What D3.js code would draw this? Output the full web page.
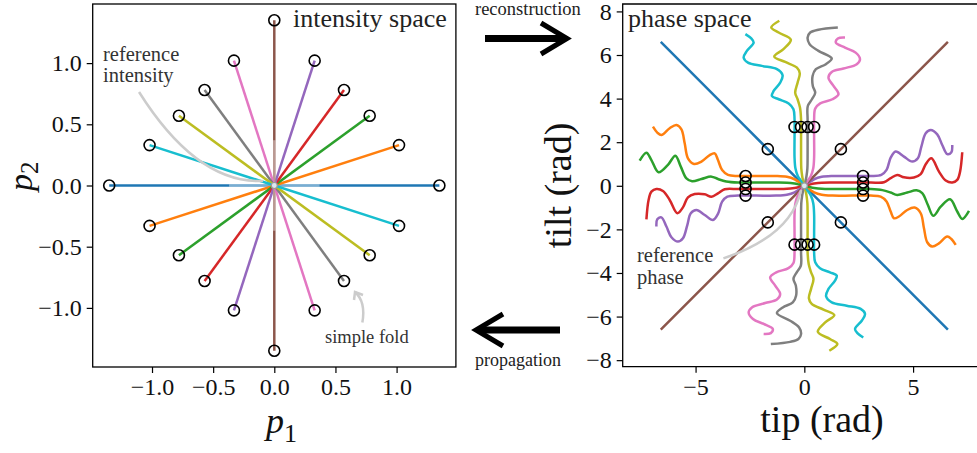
<!DOCTYPE html>
<html>
<head>
<meta charset="utf-8">
<script src="https://cdn.jsdelivr.net/npm/d3@7"></script>
<style>
  body { margin: 0; background: #fff; }
  svg { display: block; font-family: "Liberation Serif", "DejaVu Serif", serif; }
</style>
</head>
<body>
<svg width="977" height="453"></svg>
<script>
// tab10 colours, one per fold direction
var colours = ["#1f77b4", "#ff7f0e", "#2ca02c", "#d62728", "#9467bd",
               "#8c564b", "#e377c2", "#7f7f7f", "#bcbd22", "#17becf"];

// intensity space: positive end of each fold line (the other end is opposite)
var intensityP1 = [1.35, 1.02, 0.78, 0.57, 0.33, 0.00, -0.33, -0.57, -0.78, -1.02];
var intensityP2 = [0.00, 0.33, 0.57, 0.78, 1.02, 1.35, 1.02, 0.78, 0.57, 0.33];

var intensityTicks = [-1.0, -0.5, 0.0, 0.5, 1.0];
var tipTicks = [-5, 0, 5];
var tiltTicks = [-8, -6, -4, -2, 0, 2, 4, 6, 8];

// phase space curves, [tip, tilt] in rad
var phaseBlue = [[-6.6, 6.6], [0, 0], [6.6, -6.6]];
var phaseBrown = [[-6.6, -6.6], [0, 0], [6.6, 6.6]];

var phaseOrange = [[-6.96,2.71],[-6.76,2.44],[-6.57,2.33],[-6.19,2.64],[-5.88,2.79],[-5.65,2.59],[-5.50,1.95],[-5.35,1.26],[-5.07,1.00],[-4.73,1.11],[-4.35,1.41],[-4.12,1.49],[-3.97,1.18],[-3.78,0.72],[-3.51,0.50],[-3.05,0.45],[-2.20,0.45],[-1.30,0.45],[-0.80,0.41],[-0.45,0.30],[-0.25,0.17],[0,0],
  [0.25,-0.17],[0.45,-0.30],[0.80,-0.41],[1.30,-0.45],[2.20,-0.45],[3.05,-0.45],[3.51,-0.50],[3.78,-0.72],[3.97,-1.18],[4.12,-1.49],[4.35,-1.41],[4.73,-1.11],[5.07,-1.00],[5.35,-1.26],[5.50,-1.95],[5.65,-2.59],[5.88,-2.79],[6.19,-2.64],[6.57,-2.33],[6.76,-2.44],[6.96,-2.71]];

var phaseGreen = [[-7.57,1.15],[-7.26,1.52],[-7.03,1.18],[-6.70,0.62],[-6.27,0.96],[-5.93,1.38],[-5.68,0.88],[-5.42,0.34],[-5.16,0.21],[-4.73,0.31],[-4.27,0.42],[-3.97,0.31],[-3.59,0.20],[-3.05,0.15],[-2.20,0.15],[-1.30,0.15],[-0.80,0.14],[-0.45,0.10],[-0.25,0.06],[0,0],
  [0.25,-0.06],[0.45,-0.10],[0.80,-0.14],[1.30,-0.15],[2.20,-0.15],[3.05,-0.15],[3.59,-0.20],[3.97,-0.31],[4.27,-0.42],[4.73,-0.31],[5.16,-0.21],[5.42,-0.34],[5.68,-0.88],[5.93,-1.38],[6.27,-0.96],[6.70,-0.62],[7.03,-1.18],[7.26,-1.52],[7.57,-1.15]];

var phaseRed = [[-7.26,-1.54],[-7.16,-0.65],[-7.03,-0.27],[-6.80,-0.15],[-6.50,-0.24],[-6.19,-0.65],[-5.84,-1.26],[-5.58,-0.99],[-5.35,-0.53],[-5.04,-0.38],[-4.58,-0.39],[-4.27,-0.50],[-3.97,-0.35],[-3.66,-0.16],[-3.05,-0.15],[-2.20,-0.15],[-1.30,-0.15],[-0.80,-0.14],[-0.45,-0.10],[-0.25,-0.06],[0,0],
  [0.25,0.06],[0.45,0.10],[0.80,0.14],[1.30,0.15],[2.20,0.15],[3.05,0.15],[3.66,0.16],[3.97,0.35],[4.27,0.50],[4.58,0.39],[5.04,0.38],[5.35,0.53],[5.58,0.99],[5.84,1.26],[6.19,0.65],[6.50,0.24],[6.80,0.15],[7.03,0.27],[7.16,0.65],[7.26,1.54]];

var phasePurple = [[-6.80,-1.87],[-6.76,-1.54],[-6.57,-1.45],[-6.34,-1.87],[-6.11,-2.36],[-5.81,-2.56],[-5.58,-2.41],[-5.38,-1.80],[-5.22,-1.26],[-4.96,-1.11],[-4.58,-1.34],[-4.20,-1.57],[-3.97,-1.29],[-3.78,-0.73],[-3.54,-0.50],[-3.05,-0.45],[-2.20,-0.45],[-1.30,-0.45],[-0.80,-0.41],[-0.45,-0.30],[-0.25,-0.17],[0,0],
  [0.25,0.17],[0.45,0.30],[0.80,0.41],[1.30,0.45],[2.20,0.45],[3.05,0.45],[3.54,0.50],[3.78,0.73],[3.97,1.29],[4.20,1.57],[4.58,1.34],[4.96,1.11],[5.22,1.26],[5.38,1.80],[5.58,2.41],[5.81,2.56],[6.11,2.36],[6.34,1.87],[6.57,1.45],[6.76,1.54],[6.80,1.87]];

var phasePink = [[1.87,6.80],[1.54,6.76],[1.45,6.57],[1.87,6.34],[2.36,6.11],[2.56,5.81],[2.41,5.58],[1.80,5.38],[1.26,5.22],[1.11,4.96],[1.34,4.58],[1.57,4.20],[1.29,3.97],[0.73,3.78],[0.50,3.54],[0.45,3.05],[0.45,2.20],[0.45,1.30],[0.41,0.80],[0.30,0.45],[0.17,0.25],[0,0],
  [-0.17,-0.25],[-0.30,-0.45],[-0.41,-0.80],[-0.45,-1.30],[-0.45,-2.20],[-0.45,-3.05],[-0.50,-3.54],[-0.73,-3.78],[-1.29,-3.97],[-1.57,-4.20],[-1.34,-4.58],[-1.11,-4.96],[-1.26,-5.22],[-1.80,-5.38],[-2.41,-5.58],[-2.56,-5.81],[-2.36,-6.11],[-1.87,-6.34],[-1.45,-6.57],[-1.54,-6.76],[-1.87,-6.80]];

var phaseGray = [[1.54,7.26],[0.65,7.16],[0.27,7.03],[0.15,6.80],[0.24,6.50],[0.65,6.19],[1.26,5.84],[0.99,5.58],[0.53,5.35],[0.38,5.04],[0.39,4.58],[0.50,4.27],[0.35,3.97],[0.16,3.66],[0.15,3.05],[0.15,2.20],[0.15,1.30],[0.14,0.80],[0.10,0.45],[0.06,0.25],[0,0],
  [-0.06,-0.25],[-0.10,-0.45],[-0.14,-0.80],[-0.15,-1.30],[-0.15,-2.20],[-0.15,-3.05],[-0.16,-3.66],[-0.35,-3.97],[-0.50,-4.27],[-0.39,-4.58],[-0.38,-5.04],[-0.53,-5.35],[-0.99,-5.58],[-1.26,-5.84],[-0.65,-6.19],[-0.24,-6.50],[-0.15,-6.80],[-0.27,-7.03],[-0.65,-7.16],[-1.54,-7.26]];

var phaseOlive = [[-1.15,7.57],[-1.52,7.26],[-1.18,7.03],[-0.62,6.70],[-0.96,6.27],[-1.38,5.93],[-0.88,5.68],[-0.34,5.42],[-0.21,5.16],[-0.31,4.73],[-0.42,4.27],[-0.31,3.97],[-0.20,3.59],[-0.15,3.05],[-0.15,2.20],[-0.15,1.30],[-0.14,0.80],[-0.10,0.45],[-0.06,0.25],[0,0],
  [0.06,-0.25],[0.10,-0.45],[0.14,-0.80],[0.15,-1.30],[0.15,-2.20],[0.15,-3.05],[0.20,-3.59],[0.31,-3.97],[0.42,-4.27],[0.31,-4.73],[0.21,-5.16],[0.34,-5.42],[0.88,-5.68],[1.38,-5.93],[0.96,-6.27],[0.62,-6.70],[1.18,-7.03],[1.52,-7.26],[1.15,-7.57]];

var phaseCyan = [[-2.71,6.96],[-2.44,6.76],[-2.33,6.57],[-2.64,6.19],[-2.79,5.88],[-2.59,5.65],[-1.95,5.50],[-1.26,5.35],[-1.00,5.07],[-1.11,4.73],[-1.41,4.35],[-1.49,4.12],[-1.18,3.97],[-0.72,3.78],[-0.50,3.51],[-0.45,3.05],[-0.45,2.20],[-0.45,1.30],[-0.41,0.80],[-0.30,0.45],[-0.17,0.25],[0,0],
  [0.17,-0.25],[0.30,-0.45],[0.41,-0.80],[0.45,-1.30],[0.45,-2.20],[0.45,-3.05],[0.50,-3.51],[0.72,-3.78],[1.18,-3.97],[1.49,-4.12],[1.41,-4.35],[1.11,-4.73],[1.00,-5.07],[1.26,-5.35],[1.95,-5.50],[2.59,-5.65],[2.79,-5.88],[2.64,-6.19],[2.33,-6.57],[2.44,-6.76],[2.71,-6.96]];

var phaseCurves = [phaseBlue, phaseOrange, phaseGreen, phaseRed, phasePurple,
                   phaseBrown, phasePink, phaseGray, phaseOlive, phaseCyan];

// reconstructed phase for each intensity point (circles)
var phaseMarkTip  = [-1.68, 1.68, -2.7, 2.7, -2.7, 2.7, -2.7, 2.7, -2.7, 2.7,
                      1.68, -1.68, 0.45, -0.45, 0.15, -0.15, -0.15, 0.15, -0.45, 0.45];
var phaseMarkTilt = [1.68, -1.68, 0.45, -0.45, 0.15, -0.15, -0.15, 0.15, -0.45, 0.45,
                      1.68, -1.68, 2.7, -2.7, 2.7, -2.7, 2.7, -2.7, 2.7, -2.7];

var svg = d3.select("svg");

// ---------- left: intensity space
var x1 = d3.scaleLinear().domain([-1.485, 1.485]).range([92.7, 455.9]);
var y1 = d3.scaleLinear().domain([-1.483, 1.483]).range([367, 4]);

var left = svg.append("g");

left.append("g")
  .attr("transform", "translate(0,367)")
  .call(d3.axisBottom(x1).tickValues(intensityTicks).tickFormat(d3.format(".1f")).tickSize(6).tickPadding(5));
left.append("g")
  .attr("transform", "translate(92.7,0)")
  .call(d3.axisLeft(y1).tickValues(intensityTicks).tickFormat(d3.format(".1f")).tickSize(6).tickPadding(5));

var folds = d3.range(intensityP1.length);

folds.forEach(function(i) {
  left.append("line")
    .attr("x1", x1(-intensityP1[i])).attr("y1", y1(-intensityP2[i]))
    .attr("x2", x1(intensityP1[i])).attr("y2", y1(intensityP2[i]))
    .attr("stroke", colours[i])
    .attr("stroke-width", 2.5);
  // the axis-aligned folds look washed out near the centre
  if (intensityP1[i] == 0 || intensityP2[i] == 0) {
    left.append("line")
      .attr("x1", x1(-0.37 * intensityP1[i] / 1.35)).attr("y1", y1(-0.37 * intensityP2[i] / 1.35))
      .attr("x2", x1(0.37 * intensityP1[i] / 1.35)).attr("y2", y1(0.37 * intensityP2[i] / 1.35))
      .attr("stroke", "#fff").attr("stroke-opacity", 0.4)
      .attr("stroke-width", 2.5);
  }
});

// reference intensity annotation
var refI = d3.path();
refI.moveTo(x1(-1.106), y1(0.764));
refI.quadraticCurveTo(x1(-0.632), y1(0.012), x1(-0.092), y1(0.037));
left.append("path").attr("d", refI.toString())
  .attr("fill", "none").attr("stroke", "#cccccc").attr("stroke-width", 2.5);

left.selectAll(".endA")
  .data(folds.concat(folds.map(i => -1 - i)))
  .enter().append("circle")
  .attr("cx", i => i >= 0 ? x1(intensityP1[i]) : x1(-intensityP1[-1 - i]))
  .attr("cy", i => i >= 0 ? y1(intensityP2[i]) : y1(-intensityP2[-1 - i]))
  .attr("r", 5.5)
  .attr("fill", "none").attr("stroke", "#000").attr("stroke-width", 1.6);

left.append("circle").attr("cx", x1(0)).attr("cy", y1(0)).attr("r", 3)
  .attr("fill", "#dde8f0").attr("stroke", "#999").attr("stroke-width", 1.2);

// simple fold annotation
var fold = d3.path();
fold.moveTo(x1(0.72), y1(-1.12));
fold.quadraticCurveTo(x1(0.75), y1(-0.95), x1(0.66), y1(-0.87));
left.append("path").attr("d", fold.toString())
  .attr("fill", "none").attr("stroke", "#cccccc").attr("stroke-width", 2.5);
left.append("path")
  .attr("d", "M" + (x1(0.66) - 1) + "," + (y1(-0.87) + 8) + "L" + x1(0.66) + "," + y1(-0.87) + "L" + (x1(0.66) + 8) + "," + (y1(-0.87) + 3))
  .attr("fill", "none").attr("stroke", "#cccccc").attr("stroke-width", 2.5);

left.append("rect")
  .attr("x", 92.7).attr("y", 4).attr("width", 455.9 - 92.7).attr("height", 363)
  .attr("fill", "none").attr("stroke", "#000").attr("stroke-width", 1.3);

left.append("text").attr("x", 293).attr("y", 27).attr("font-size", 26).attr("fill", "#222").text("intensity space");
left.append("text").attr("x", 103).attr("y", 61).attr("font-size", 20.5).attr("fill", "#333").text("reference");
left.append("text").attr("x", 103).attr("y", 82).attr("font-size", 20.5).attr("fill", "#333").text("intensity");
left.append("text").attr("x", 325).attr("y", 342.5).attr("font-size", 18.5).attr("fill", "#333").text("simple fold");

var p1 = left.append("text").attr("x", 266).attr("y", 433).attr("font-size", 36).attr("fill", "#111");
p1.append("tspan").attr("font-style", "italic").text("p");
p1.append("tspan").attr("font-size", 26).attr("dy", 9).text("1");

var p2 = left.append("text").attr("transform", "translate(32,191) rotate(-90)").attr("font-size", 34).attr("fill", "#111");
p2.append("tspan").attr("font-style", "italic").text("p");
p2.append("tspan").attr("font-size", 25).attr("dy", 6).text("2");

// ---------- right: phase space
var x2 = d3.scaleLinear().domain([-8.35, 8.43]).range([622.7, 987.7]);
var y2 = d3.scaleLinear().domain([-8.30, 8.34]).range([366.7, 4]);

var right = svg.append("g");

right.append("g")
  .attr("transform", "translate(0,366.7)")
  .call(d3.axisBottom(x2).tickValues(tipTicks).tickFormat(d3.format("d")).tickSize(6).tickPadding(5));
right.append("g")
  .attr("transform", "translate(622.7,0)")
  .call(d3.axisLeft(y2).tickValues(tiltTicks).tickFormat(d3.format("d")).tickSize(6).tickPadding(5));

var phaseLine = d3.line()
  .x(d => x2(d[0]))
  .y(d => y2(d[1]))
  .curve(d3.curveCatmullRom.alpha(0.5));

right.selectAll(".phase")
  .data(phaseCurves)
  .enter().append("path")
  .attr("class", "phase")
  .attr("d", phaseLine)
  .attr("fill", "none")
  .attr("stroke", (d, i) => colours[i])
  .attr("stroke-width", 2.5);

// reference phase annotation
var refP = d3.path();
refP.moveTo(x2(-3.72), y2(-3.33));
refP.quadraticCurveTo(x2(-0.60), y2(-2.29), x2(-0.15), y2(-0.19));
right.append("path").attr("d", refP.toString())
  .attr("fill", "none").attr("stroke", "#cccccc").attr("stroke-width", 2.5);

right.selectAll(".mark")
  .data(phaseMarkTip)
  .enter().append("circle")
  .attr("cx", d => x2(d))
  .attr("cy", (d, i) => y2(phaseMarkTilt[i]))
  .attr("r", 5.5)
  .attr("fill", "none").attr("stroke", "#000").attr("stroke-width", 1.6);

right.append("circle").attr("cx", x2(0)).attr("cy", y2(0)).attr("r", 3)
  .attr("fill", "#dde8f0").attr("stroke", "#999").attr("stroke-width", 1.2);

right.append("path")
  .attr("d", "M987.7,4H622.7V366.7H987.7")
  .attr("fill", "none").attr("stroke", "#000").attr("stroke-width", 1.3);

right.append("text").attr("x", 628).attr("y", 27).attr("font-size", 26).attr("fill", "#222").text("phase space");
right.append("text").attr("x", 637).attr("y", 262).attr("font-size", 20.5).attr("fill", "#333").text("reference");
right.append("text").attr("x", 637).attr("y", 284).attr("font-size", 20.5).attr("fill", "#333").text("phase");

right.append("text").attr("x", 822).attr("y", 432).attr("text-anchor", "middle")
  .attr("font-size", 38).attr("fill", "#111").text("tip (rad)");
right.append("text").attr("transform", "translate(571,185.4) rotate(-90)").attr("text-anchor", "middle")
  .attr("font-size", 38).attr("fill", "#111").text("tilt (rad)");

// axis styling
svg.selectAll(".domain").remove();
svg.selectAll(".tick line").attr("stroke", "#000").attr("stroke-width", 1.2);
svg.selectAll(".tick text")
  .attr("font-family", "Liberation Serif, DejaVu Serif, serif")
  .attr("font-size", 24).attr("fill", "#111");

// ---------- arrows between the panels
var arrows = svg.append("g").attr("stroke", "#000").attr("fill", "none");
arrows.append("line").attr("x1", 485).attr("y1", 38.5).attr("x2", 563).attr("y2", 38.5).attr("stroke-width", 7);
arrows.append("path").attr("d", "M541,23L567,38.5L541,54").attr("stroke-width", 5);
arrows.append("line").attr("x1", 479).attr("y1", 330).attr("x2", 560).attr("y2", 330).attr("stroke-width", 7);
arrows.append("path").attr("d", "M503,314L476,330L503,346").attr("stroke-width", 5);

svg.append("text").attr("x", 475).attr("y", 14.5).attr("font-size", 18.5).attr("fill", "#222").text("reconstruction");
svg.append("text").attr("x", 475).attr("y", 366).attr("font-size", 18).attr("fill", "#222").text("propagation");
</script>
</body>
</html>
